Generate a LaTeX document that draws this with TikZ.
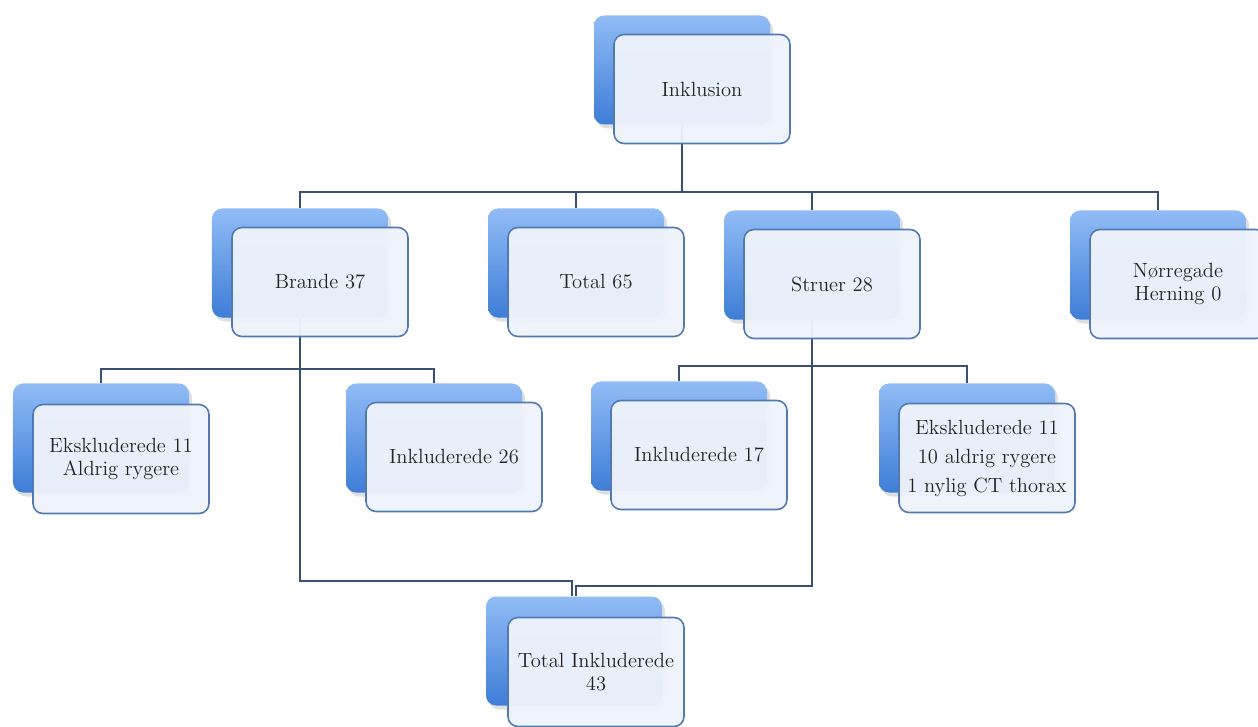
\documentclass[tikz,border=0pt]{standalone}
\usepackage{tikz}
\usetikzlibrary{shadows}
\definecolor{boxblue}{RGB}{62,125,215}
\definecolor{boxlight}{RGB}{145,188,246}
\definecolor{frontfill}{RGB}{238,243,251}
\definecolor{frontline}{RGB}{82,122,178}
\definecolor{connline}{RGB}{55,80,115}
\definecolor{textgrey}{RGB}{35,35,35}

\begin{document}
\begin{tikzpicture}[
    x=0.2mm, y=-0.2mm,
    back/.style={rounded corners=2mm, minimum width=35.2mm, minimum height=21.8mm, inner sep=0pt, top color=boxlight, bottom color=boxblue, drop shadow={opacity=0.25, shadow xshift=0.6mm, shadow yshift=-0.8mm}},
    front/.style={rounded corners=2mm, draw=frontline, line width=0.9pt, fill=frontfill, fill opacity=0.96, text opacity=1, minimum width=35.2mm, minimum height=21.8mm, inner sep=1mm, align=center, font=\fontsize{11.7}{13.5}\selectfont, text=textgrey},
    conn/.style={draw=connline, line width=1pt}
]
\useasboundingbox (0,0) rectangle (1258,727);

% back boxes
\node[back] (inkB) at (682,70) {};
\node[back] (braB) at (300,263) {};
\node[back] (totB) at (576,263) {};
\node[back] (strB) at (812,265) {};
\node[back] (norB) at (1158,265) {};
\node[back] (ek1B) at (101,438) {};
\node[back] (in26B) at (434,438) {};
\node[back] (in17B) at (679,436) {};
\node[back] (ek2B) at (967,438) {};
\node[back] (totiB) at (574,651) {};

% connectors
\coordinate (bus1) at (0,192);
\coordinate (bus2) at (0,369);
\coordinate (bus3) at (0,366);
\coordinate (join1) at (0,581);
\coordinate (join2) at (0,586);
\foreach \n in {braB,totB,strB,norB}
  \draw[conn] (inkB.south) -- (inkB.south |- bus1) -| (\n.north);
\foreach \n in {ek1B,in26B}
  \draw[conn] (braB.south) -- (braB.south |- bus2) -| (\n.north);
\foreach \n in {in17B,ek2B}
  \draw[conn] (strB.south) -- (strB.south |- bus3) -| (\n.north);
\draw[conn] (braB.south) -- (braB.south |- join1) -| ([xshift=-0.4mm]totiB.north);
\draw[conn] (strB.south) -- (strB.south |- join2) -| ([xshift=0.4mm]totiB.north);

% front boxes
\node[front] (ink) at ([shift={(20,19)}]inkB.center) {Inklusion};
\node[front] (bra) at ([shift={(20,19)}]braB.center) {Brande 37};
\node[front] (tot) at ([shift={(20,19)}]totB.center) {Total 65};
\node[front] (str) at ([shift={(20,19)}]strB.center) {Struer 28};
\node[front] (nor) at ([shift={(20,19)}]norB.center) {Nørregade\\Herning 0};
\node[front] (ek1) at ([shift={(20,21)}]ek1B.center) {Ekskluderede 11\\Aldrig rygere};
\node[front] (in26) at ([shift={(20,19)}]in26B.center) {Inkluderede 26};
\node[front] (in17) at ([shift={(20,19)}]in17B.center) {Inkluderede 17};
\node[front] (ek2) at ([shift={(20,20)}]ek2B.center) {Ekskluderede 11\\[3pt]10 aldrig rygere\\[3pt]1 nylig CT thorax};
\node[front] (toti) at ([shift={(22,21)}]totiB.center) {Total Inkluderede\\43};
\end{tikzpicture}
\end{document}
